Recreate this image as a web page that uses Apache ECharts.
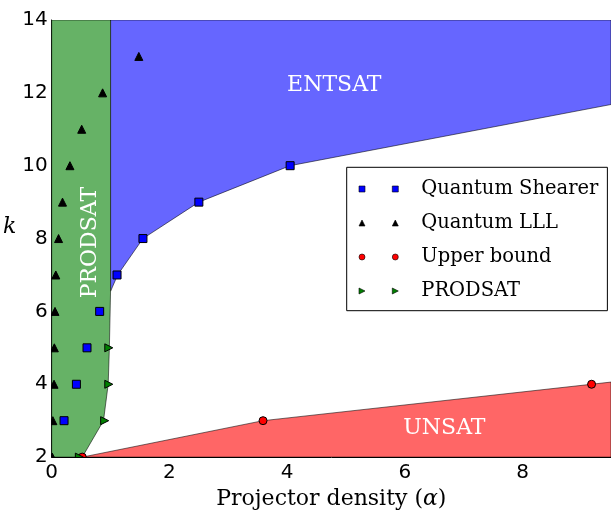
<!DOCTYPE html>
<html><head><meta charset="utf-8">
<script src="https://cdn.jsdelivr.net/npm/echarts@6/dist/echarts.min.js"></script>
<style>html,body{margin:0;padding:0;background:#fff}#c{width:611px;height:515px}</style>
</head><body><div id="c"></div>
<script>
// ---- data ----
const xTicks = [0, 2, 4, 6, 8];
const yTicks = [2, 4, 6, 8, 10, 12, 14];

// phase regions (boundary polygons, data coordinates)
const entsatX = [1.0, 1.0, 1.12, 1.55, 2.5, 4.05, 9.5, 9.5];
const entsatY = [14, 6.55, 7, 8, 9, 10, 11.68, 14];
const prodsatRegionX = [0, 0, 0.52, 0.88, 0.96, 0.98, 1.0, 1.0];
const prodsatRegionY = [14, 2, 2, 3, 4, 5, 6.55, 14];
const unsatX = [0.52, 3.59, 9.17, 9.5, 9.5];
const unsatY = [2, 3, 4, 4.06, 2];

// marker series
const shearerX = [0.21, 0.42, 0.60, 0.815, 1.11, 1.55, 2.5, 4.05];
const shearerY = [3, 4, 5, 6, 7, 8, 9, 10];
const lllX = [0.01, 0.02, 0.04, 0.045, 0.056, 0.07, 0.117, 0.184, 0.31, 0.51, 0.865, 1.48];
const lllY = [2, 3, 4, 5, 6, 7, 8, 9, 10, 11, 12, 13];
const upperX = [0.52, 3.59, 9.17];
const upperY = [2, 3, 4];
const prodsatX = [0.47, 0.9, 0.97, 0.97];
const prodsatY = [2, 3, 4, 5];

const regionNames = ['ENTSAT', 'UNSAT', 'PRODSAT'];
const regionLabelX = [4.8, 6.67, 0.648];
const regionLabelY = [12.2, 2.78, 7.89];

// ---- helpers ----
const zip = (xs, ys) => xs.map((x, i) => [x, ys[i]]);
const SERIF = '"DejaVu Serif", "Liberation Serif", serif';
const SANS = '"DejaVu Sans", sans-serif';

function polygonSeries(name, xs, ys, fill) {
  return {
    type: 'custom', name: name, clip: true, z: 1,
    data: zip(xs, ys), encode: { x: 0, y: 1 },
    renderItem: function (params, api) {
      if (params.dataIndex !== 0) return null;
      const pts = [];
      for (let i = 0; i < params.dataInsideLength; i++) {
        pts.push(api.coord([api.value(0, i), api.value(1, i)]));
      }
      return { type: 'polygon', shape: { points: pts },
        style: { fill: fill, stroke: 'rgba(0,0,0,0.55)', lineWidth: 1 } };
    }
  };
}

function markerSeries(name, xs, ys, shape, fill) {
  const size = 8, h = size / 2;
  return {
    type: 'custom', name: name, clip: true, z: 3,
    data: zip(xs, ys), encode: { x: 0, y: 1 },
    itemStyle: { color: fill },
    renderItem: function (params, api) {
      const p = api.coord([api.value(0), api.value(1)]);
      let el;
      if (shape === 'square') el = { type: 'rect', shape: { x: p[0] - h, y: p[1] - h, width: size, height: size } };
      else if (shape === 'circle') el = { type: 'circle', shape: { cx: p[0], cy: p[1], r: h } };
      else if (shape === 'up') el = { type: 'polygon', shape: { points: [[p[0], p[1] - h], [p[0] + h, p[1] + h], [p[0] - h, p[1] + h]] } };
      else el = { type: 'polygon', shape: { points: [[p[0] + h, p[1]], [p[0] - h, p[1] - h], [p[0] - h, p[1] + h]] } };
      el.style = { fill: fill, stroke: '#000', lineWidth: 1 };
      return el;
    }
  };
}

const labelSeries = {
  type: 'custom', name: 'regionLabels', clip: false, z: 4,
  data: regionNames.map((n, i) => [regionLabelX[i], regionLabelY[i], n]),
  encode: { x: 0, y: 1 },
  renderItem: function (params, api) {
    const p = api.coord([api.value(0), api.value(1)]);
    const name = regionNames[params.dataIndex];
    return { type: 'text', x: p[0], y: p[1], rotation: name === 'PRODSAT' ? Math.PI / 2 : 0,
      style: { text: name, fill: '#fff', font: '22px ' + SERIF, align: 'center', verticalAlign: 'middle' } };
  }
};

const P = 33.3; // spacing between the two legend markers
const icons = {
  square: `path://M0,0L6,0L6,6L0,6Z M${P},0L${P+6},0L${P+6},6L${P},6Z`,
  up: `path://M3,0L6,6L0,6Z M${P+3},0L${P+6},6L${P},6Z`,
  circle: `path://M0,3A3,3 0 1,1 6,3A3,3 0 1,1 0,3Z M${P},3A3,3 0 1,1 ${P+6},3A3,3 0 1,1 ${P},3Z`,
  right: `path://M0,0L6,3L0,6Z M${P},0L${P+6},3L${P},6Z`
};

const axisLineStyle = { lineStyle: { color: '#000', width: 1 } };
const tickStyle = { inside: true, length: 5, lineStyle: { color: '#000', width: 1 } };

const option = {
  animation: false,
  backgroundColor: '#fff',
  grid: { left: 50, right: -6.6, top: 20, bottom: 56.7, containLabel: false },
  xAxis: [{
    type: 'value', min: 0, max: 9.5, interval: 2, position: 'bottom',
    axisLine: Object.assign({ show: true, onZero: false }, axisLineStyle),
    axisTick: tickStyle, splitLine: { show: false },
    axisLabel: { fontFamily: SANS, fontSize: 20, color: '#000', margin: 6, showMaxLabel: false,
      formatter: v => xTicks.includes(v) ? String(v) : '' },
    name: 'Projector density ({i|α})', nameLocation: 'middle', nameGap: 39,
    nameTextStyle: { fontFamily: SERIF, fontSize: 22, color: '#000', verticalAlign: 'middle',
      rich: { i: { fontFamily: SERIF, fontSize: 22, fontStyle: 'italic', color: '#000' } } }
  }, {
    type: 'value', min: 0, max: 9.5, interval: 2, position: 'top',
    axisLine: Object.assign({ show: true, onZero: false }, axisLineStyle),
    axisTick: tickStyle, splitLine: { show: false }, axisLabel: { show: false }
  }],
  yAxis: [{
    type: 'value', min: 2, max: 14, interval: 2,
    axisLine: Object.assign({ show: true, onZero: false }, axisLineStyle),
    axisTick: tickStyle, splitLine: { show: false },
    axisLabel: { fontFamily: SANS, fontSize: 20, color: '#000', margin: 4,
      formatter: v => yTicks.includes(v) ? String(v) : '' },
    name: 'k', nameLocation: 'middle', nameRotate: 0, nameGap: 29,
    nameTextStyle: { fontFamily: SERIF, fontSize: 22, fontStyle: 'italic', color: '#000',
      verticalAlign: 'bottom' }
  }],
  legend: {
    orient: 'vertical', left: 346.7, top: 167.3,
    padding: [11.7, 9, 9.7, 12], itemGap: 14,
    itemWidth: P + 6, itemHeight: 6,
    backgroundColor: '#fff', borderColor: '#000', borderWidth: 1, borderRadius: 0,
    selectedMode: false,
    textStyle: { fontFamily: SERIF, fontSize: 19.5, lineHeight: 20, color: '#000', padding: [0, 0, 0, 18] },
    data: [
      { name: 'Quantum Shearer', icon: icons.square, itemStyle: { color: '#0000ff', borderColor: '#000', borderWidth: 0.6 } },
      { name: 'Quantum LLL', icon: icons.up, itemStyle: { color: '#000', borderColor: '#000', borderWidth: 0.6 } },
      { name: 'Upper bound', icon: icons.circle, itemStyle: { color: '#ff0000', borderColor: '#000', borderWidth: 0.6 } },
      { name: 'PRODSAT', icon: icons.right, itemStyle: { color: '#008000', borderColor: '#000', borderWidth: 0.6 } }
    ]
  },
  series: [
    polygonSeries('regionENTSAT', entsatX, entsatY, '#6666ff'),
    polygonSeries('regionPRODSAT', prodsatRegionX, prodsatRegionY, '#66b266'),
    polygonSeries('regionUNSAT', unsatX, unsatY, '#ff6666'),
    markerSeries('Quantum Shearer', shearerX, shearerY, 'square', '#0000ff'),
    markerSeries('Quantum LLL', lllX, lllY, 'up', '#000000'),
    markerSeries('Upper bound', upperX, upperY, 'circle', '#ff0000'),
    markerSeries('PRODSAT', prodsatX, prodsatY, 'right', '#008000'),
    labelSeries
  ]
};

const chart = echarts.init(document.getElementById('c'));
chart.setOption(option);
</script></body></html>
